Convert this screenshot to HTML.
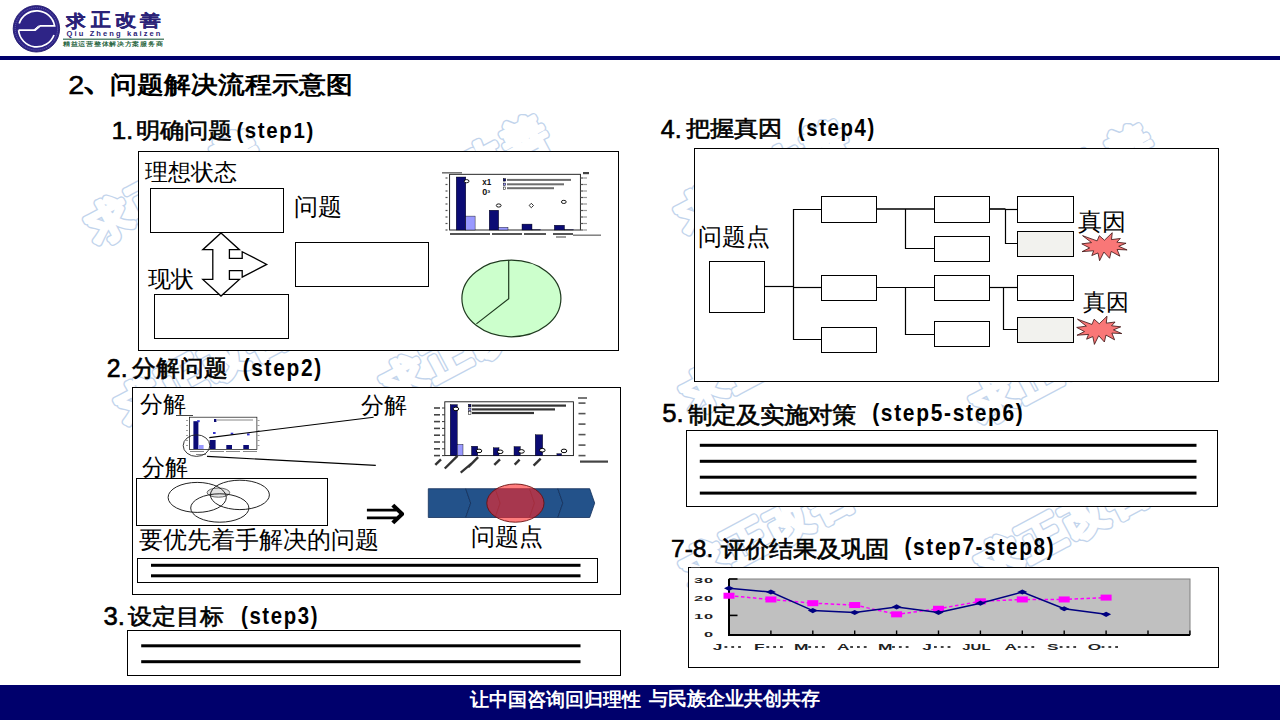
<!DOCTYPE html>
<html><head><meta charset="utf-8"><style>
html,body{margin:0;padding:0;background:#fff;}
#p{position:relative;width:1280px;height:720px;overflow:hidden;background:#fff;}
.t{position:absolute;white-space:nowrap;}
svg{position:absolute;left:0;top:0;}
</style></head><body><div id="p">
<svg width="1280" height="720" viewBox="0 0 1280 720"><rect x="0" y="56" width="1280" height="4" fill="#00006c"/>
<rect x="0" y="685" width="1280" height="35" fill="#00006c"/>
<g>
<circle cx="36.4" cy="28.8" r="23.2" fill="#2e2486" stroke="#231a6e" stroke-width="0.9"/>
<circle cx="36.4" cy="28.8" r="21.2" fill="none" stroke="#8f89c9" stroke-width="0.6" stroke-dasharray="1 1"/>
<path d="M 19.2 23.5 A 18.3 18.3 0 0 1 54.6 25.8 L 40.2 25.8 L 35.2 30.2 L 18.6 30.2" fill="none" stroke="#fff" stroke-width="1.7"/>
<path d="M 18.6 30.2 A 18.3 18.3 0 0 0 54.0 35.0" fill="none" stroke="#fff" stroke-width="1.7"/>
<path d="M 33.5 30.2 L 38.6 25.8" fill="none" stroke="#fff" stroke-width="1"/>
</g>
<rect x="63" y="38.6" width="101" height="1.2" fill="#336b50"/>
<text x="110" y="235" text-anchor="middle" font-family="Liberation Sans" font-weight="bold" font-size="44" fill="none" stroke="#c2d4ec" stroke-width="6.4" stroke-linejoin="round" stroke-linecap="round" transform="rotate(-28 110 221)">求</text>
<text x="152" y="213" text-anchor="middle" font-family="Liberation Sans" font-weight="bold" font-size="44" fill="none" stroke="#c2d4ec" stroke-width="6.4" stroke-linejoin="round" stroke-linecap="round" transform="rotate(-28 152 199)">正</text>
<text x="194" y="191" text-anchor="middle" font-family="Liberation Sans" font-weight="bold" font-size="44" fill="none" stroke="#c2d4ec" stroke-width="6.4" stroke-linejoin="round" stroke-linecap="round" transform="rotate(-28 194 177)">改</text>
<text x="236" y="169" text-anchor="middle" font-family="Liberation Sans" font-weight="bold" font-size="44" fill="none" stroke="#c2d4ec" stroke-width="6.4" stroke-linejoin="round" stroke-linecap="round" transform="rotate(-28 236 155)">善</text>
<text x="110" y="235" text-anchor="middle" font-family="Liberation Sans" font-weight="bold" font-size="44" fill="#fff" stroke="#fff" stroke-width="3.6" stroke-linejoin="round" stroke-linecap="round" transform="rotate(-28 110 221)">求</text>
<text x="152" y="213" text-anchor="middle" font-family="Liberation Sans" font-weight="bold" font-size="44" fill="#fff" stroke="#fff" stroke-width="3.6" stroke-linejoin="round" stroke-linecap="round" transform="rotate(-28 152 199)">正</text>
<text x="194" y="191" text-anchor="middle" font-family="Liberation Sans" font-weight="bold" font-size="44" fill="#fff" stroke="#fff" stroke-width="3.6" stroke-linejoin="round" stroke-linecap="round" transform="rotate(-28 194 177)">改</text>
<text x="236" y="169" text-anchor="middle" font-family="Liberation Sans" font-weight="bold" font-size="44" fill="#fff" stroke="#fff" stroke-width="3.6" stroke-linejoin="round" stroke-linecap="round" transform="rotate(-28 236 155)">善</text>
<text x="400" y="220" text-anchor="middle" font-family="Liberation Sans" font-weight="bold" font-size="44" fill="none" stroke="#c2d4ec" stroke-width="6.4" stroke-linejoin="round" stroke-linecap="round" transform="rotate(-28 400 206)">求</text>
<text x="442" y="198" text-anchor="middle" font-family="Liberation Sans" font-weight="bold" font-size="44" fill="none" stroke="#c2d4ec" stroke-width="6.4" stroke-linejoin="round" stroke-linecap="round" transform="rotate(-28 442 184)">正</text>
<text x="484" y="176" text-anchor="middle" font-family="Liberation Sans" font-weight="bold" font-size="44" fill="none" stroke="#c2d4ec" stroke-width="6.4" stroke-linejoin="round" stroke-linecap="round" transform="rotate(-28 484 162)">改</text>
<text x="526" y="154" text-anchor="middle" font-family="Liberation Sans" font-weight="bold" font-size="44" fill="none" stroke="#c2d4ec" stroke-width="6.4" stroke-linejoin="round" stroke-linecap="round" transform="rotate(-28 526 140)">善</text>
<text x="400" y="220" text-anchor="middle" font-family="Liberation Sans" font-weight="bold" font-size="44" fill="#fff" stroke="#fff" stroke-width="3.6" stroke-linejoin="round" stroke-linecap="round" transform="rotate(-28 400 206)">求</text>
<text x="442" y="198" text-anchor="middle" font-family="Liberation Sans" font-weight="bold" font-size="44" fill="#fff" stroke="#fff" stroke-width="3.6" stroke-linejoin="round" stroke-linecap="round" transform="rotate(-28 442 184)">正</text>
<text x="484" y="176" text-anchor="middle" font-family="Liberation Sans" font-weight="bold" font-size="44" fill="#fff" stroke="#fff" stroke-width="3.6" stroke-linejoin="round" stroke-linecap="round" transform="rotate(-28 484 162)">改</text>
<text x="526" y="154" text-anchor="middle" font-family="Liberation Sans" font-weight="bold" font-size="44" fill="#fff" stroke="#fff" stroke-width="3.6" stroke-linejoin="round" stroke-linecap="round" transform="rotate(-28 526 140)">善</text>
<text x="700" y="225" text-anchor="middle" font-family="Liberation Sans" font-weight="bold" font-size="44" fill="none" stroke="#c2d4ec" stroke-width="6.4" stroke-linejoin="round" stroke-linecap="round" transform="rotate(-28 700 211)">求</text>
<text x="742" y="203" text-anchor="middle" font-family="Liberation Sans" font-weight="bold" font-size="44" fill="none" stroke="#c2d4ec" stroke-width="6.4" stroke-linejoin="round" stroke-linecap="round" transform="rotate(-28 742 189)">正</text>
<text x="784" y="181" text-anchor="middle" font-family="Liberation Sans" font-weight="bold" font-size="44" fill="none" stroke="#c2d4ec" stroke-width="6.4" stroke-linejoin="round" stroke-linecap="round" transform="rotate(-28 784 167)">改</text>
<text x="826" y="159" text-anchor="middle" font-family="Liberation Sans" font-weight="bold" font-size="44" fill="none" stroke="#c2d4ec" stroke-width="6.4" stroke-linejoin="round" stroke-linecap="round" transform="rotate(-28 826 145)">善</text>
<text x="700" y="225" text-anchor="middle" font-family="Liberation Sans" font-weight="bold" font-size="44" fill="#fff" stroke="#fff" stroke-width="3.6" stroke-linejoin="round" stroke-linecap="round" transform="rotate(-28 700 211)">求</text>
<text x="742" y="203" text-anchor="middle" font-family="Liberation Sans" font-weight="bold" font-size="44" fill="#fff" stroke="#fff" stroke-width="3.6" stroke-linejoin="round" stroke-linecap="round" transform="rotate(-28 742 189)">正</text>
<text x="784" y="181" text-anchor="middle" font-family="Liberation Sans" font-weight="bold" font-size="44" fill="#fff" stroke="#fff" stroke-width="3.6" stroke-linejoin="round" stroke-linecap="round" transform="rotate(-28 784 167)">改</text>
<text x="826" y="159" text-anchor="middle" font-family="Liberation Sans" font-weight="bold" font-size="44" fill="#fff" stroke="#fff" stroke-width="3.6" stroke-linejoin="round" stroke-linecap="round" transform="rotate(-28 826 145)">善</text>
<text x="1005" y="229" text-anchor="middle" font-family="Liberation Sans" font-weight="bold" font-size="44" fill="none" stroke="#c2d4ec" stroke-width="6.4" stroke-linejoin="round" stroke-linecap="round" transform="rotate(-28 1005 215)">求</text>
<text x="1047" y="207" text-anchor="middle" font-family="Liberation Sans" font-weight="bold" font-size="44" fill="none" stroke="#c2d4ec" stroke-width="6.4" stroke-linejoin="round" stroke-linecap="round" transform="rotate(-28 1047 193)">正</text>
<text x="1089" y="185" text-anchor="middle" font-family="Liberation Sans" font-weight="bold" font-size="44" fill="none" stroke="#c2d4ec" stroke-width="6.4" stroke-linejoin="round" stroke-linecap="round" transform="rotate(-28 1089 171)">改</text>
<text x="1131" y="163" text-anchor="middle" font-family="Liberation Sans" font-weight="bold" font-size="44" fill="none" stroke="#c2d4ec" stroke-width="6.4" stroke-linejoin="round" stroke-linecap="round" transform="rotate(-28 1131 149)">善</text>
<text x="1005" y="229" text-anchor="middle" font-family="Liberation Sans" font-weight="bold" font-size="44" fill="#fff" stroke="#fff" stroke-width="3.6" stroke-linejoin="round" stroke-linecap="round" transform="rotate(-28 1005 215)">求</text>
<text x="1047" y="207" text-anchor="middle" font-family="Liberation Sans" font-weight="bold" font-size="44" fill="#fff" stroke="#fff" stroke-width="3.6" stroke-linejoin="round" stroke-linecap="round" transform="rotate(-28 1047 193)">正</text>
<text x="1089" y="185" text-anchor="middle" font-family="Liberation Sans" font-weight="bold" font-size="44" fill="#fff" stroke="#fff" stroke-width="3.6" stroke-linejoin="round" stroke-linecap="round" transform="rotate(-28 1089 171)">改</text>
<text x="1131" y="163" text-anchor="middle" font-family="Liberation Sans" font-weight="bold" font-size="44" fill="#fff" stroke="#fff" stroke-width="3.6" stroke-linejoin="round" stroke-linecap="round" transform="rotate(-28 1131 149)">善</text>
<text x="140" y="416" text-anchor="middle" font-family="Liberation Sans" font-weight="bold" font-size="44" fill="none" stroke="#c2d4ec" stroke-width="6.4" stroke-linejoin="round" stroke-linecap="round" transform="rotate(-28 140 402)">求</text>
<text x="182" y="394" text-anchor="middle" font-family="Liberation Sans" font-weight="bold" font-size="44" fill="none" stroke="#c2d4ec" stroke-width="6.4" stroke-linejoin="round" stroke-linecap="round" transform="rotate(-28 182 380)">正</text>
<text x="224" y="372" text-anchor="middle" font-family="Liberation Sans" font-weight="bold" font-size="44" fill="none" stroke="#c2d4ec" stroke-width="6.4" stroke-linejoin="round" stroke-linecap="round" transform="rotate(-28 224 358)">改</text>
<text x="266" y="350" text-anchor="middle" font-family="Liberation Sans" font-weight="bold" font-size="44" fill="none" stroke="#c2d4ec" stroke-width="6.4" stroke-linejoin="round" stroke-linecap="round" transform="rotate(-28 266 336)">善</text>
<text x="140" y="416" text-anchor="middle" font-family="Liberation Sans" font-weight="bold" font-size="44" fill="#fff" stroke="#fff" stroke-width="3.6" stroke-linejoin="round" stroke-linecap="round" transform="rotate(-28 140 402)">求</text>
<text x="182" y="394" text-anchor="middle" font-family="Liberation Sans" font-weight="bold" font-size="44" fill="#fff" stroke="#fff" stroke-width="3.6" stroke-linejoin="round" stroke-linecap="round" transform="rotate(-28 182 380)">正</text>
<text x="224" y="372" text-anchor="middle" font-family="Liberation Sans" font-weight="bold" font-size="44" fill="#fff" stroke="#fff" stroke-width="3.6" stroke-linejoin="round" stroke-linecap="round" transform="rotate(-28 224 358)">改</text>
<text x="266" y="350" text-anchor="middle" font-family="Liberation Sans" font-weight="bold" font-size="44" fill="#fff" stroke="#fff" stroke-width="3.6" stroke-linejoin="round" stroke-linecap="round" transform="rotate(-28 266 336)">善</text>
<text x="405" y="394" text-anchor="middle" font-family="Liberation Sans" font-weight="bold" font-size="44" fill="none" stroke="#c2d4ec" stroke-width="6.4" stroke-linejoin="round" stroke-linecap="round" transform="rotate(-28 405 380)">求</text>
<text x="447" y="372" text-anchor="middle" font-family="Liberation Sans" font-weight="bold" font-size="44" fill="none" stroke="#c2d4ec" stroke-width="6.4" stroke-linejoin="round" stroke-linecap="round" transform="rotate(-28 447 358)">正</text>
<text x="489" y="350" text-anchor="middle" font-family="Liberation Sans" font-weight="bold" font-size="44" fill="none" stroke="#c2d4ec" stroke-width="6.4" stroke-linejoin="round" stroke-linecap="round" transform="rotate(-28 489 336)">改</text>
<text x="531" y="328" text-anchor="middle" font-family="Liberation Sans" font-weight="bold" font-size="44" fill="none" stroke="#c2d4ec" stroke-width="6.4" stroke-linejoin="round" stroke-linecap="round" transform="rotate(-28 531 314)">善</text>
<text x="405" y="394" text-anchor="middle" font-family="Liberation Sans" font-weight="bold" font-size="44" fill="#fff" stroke="#fff" stroke-width="3.6" stroke-linejoin="round" stroke-linecap="round" transform="rotate(-28 405 380)">求</text>
<text x="447" y="372" text-anchor="middle" font-family="Liberation Sans" font-weight="bold" font-size="44" fill="#fff" stroke="#fff" stroke-width="3.6" stroke-linejoin="round" stroke-linecap="round" transform="rotate(-28 447 358)">正</text>
<text x="489" y="350" text-anchor="middle" font-family="Liberation Sans" font-weight="bold" font-size="44" fill="#fff" stroke="#fff" stroke-width="3.6" stroke-linejoin="round" stroke-linecap="round" transform="rotate(-28 489 336)">改</text>
<text x="531" y="328" text-anchor="middle" font-family="Liberation Sans" font-weight="bold" font-size="44" fill="#fff" stroke="#fff" stroke-width="3.6" stroke-linejoin="round" stroke-linecap="round" transform="rotate(-28 531 314)">善</text>
<text x="705" y="404" text-anchor="middle" font-family="Liberation Sans" font-weight="bold" font-size="44" fill="none" stroke="#c2d4ec" stroke-width="6.4" stroke-linejoin="round" stroke-linecap="round" transform="rotate(-28 705 390)">求</text>
<text x="747" y="382" text-anchor="middle" font-family="Liberation Sans" font-weight="bold" font-size="44" fill="none" stroke="#c2d4ec" stroke-width="6.4" stroke-linejoin="round" stroke-linecap="round" transform="rotate(-28 747 368)">正</text>
<text x="789" y="360" text-anchor="middle" font-family="Liberation Sans" font-weight="bold" font-size="44" fill="none" stroke="#c2d4ec" stroke-width="6.4" stroke-linejoin="round" stroke-linecap="round" transform="rotate(-28 789 346)">改</text>
<text x="831" y="338" text-anchor="middle" font-family="Liberation Sans" font-weight="bold" font-size="44" fill="none" stroke="#c2d4ec" stroke-width="6.4" stroke-linejoin="round" stroke-linecap="round" transform="rotate(-28 831 324)">善</text>
<text x="705" y="404" text-anchor="middle" font-family="Liberation Sans" font-weight="bold" font-size="44" fill="#fff" stroke="#fff" stroke-width="3.6" stroke-linejoin="round" stroke-linecap="round" transform="rotate(-28 705 390)">求</text>
<text x="747" y="382" text-anchor="middle" font-family="Liberation Sans" font-weight="bold" font-size="44" fill="#fff" stroke="#fff" stroke-width="3.6" stroke-linejoin="round" stroke-linecap="round" transform="rotate(-28 747 368)">正</text>
<text x="789" y="360" text-anchor="middle" font-family="Liberation Sans" font-weight="bold" font-size="44" fill="#fff" stroke="#fff" stroke-width="3.6" stroke-linejoin="round" stroke-linecap="round" transform="rotate(-28 789 346)">改</text>
<text x="831" y="338" text-anchor="middle" font-family="Liberation Sans" font-weight="bold" font-size="44" fill="#fff" stroke="#fff" stroke-width="3.6" stroke-linejoin="round" stroke-linecap="round" transform="rotate(-28 831 324)">善</text>
<text x="995" y="414" text-anchor="middle" font-family="Liberation Sans" font-weight="bold" font-size="44" fill="none" stroke="#c2d4ec" stroke-width="6.4" stroke-linejoin="round" stroke-linecap="round" transform="rotate(-28 995 400)">求</text>
<text x="1037" y="392" text-anchor="middle" font-family="Liberation Sans" font-weight="bold" font-size="44" fill="none" stroke="#c2d4ec" stroke-width="6.4" stroke-linejoin="round" stroke-linecap="round" transform="rotate(-28 1037 378)">正</text>
<text x="1079" y="370" text-anchor="middle" font-family="Liberation Sans" font-weight="bold" font-size="44" fill="none" stroke="#c2d4ec" stroke-width="6.4" stroke-linejoin="round" stroke-linecap="round" transform="rotate(-28 1079 356)">改</text>
<text x="1121" y="348" text-anchor="middle" font-family="Liberation Sans" font-weight="bold" font-size="44" fill="none" stroke="#c2d4ec" stroke-width="6.4" stroke-linejoin="round" stroke-linecap="round" transform="rotate(-28 1121 334)">善</text>
<text x="995" y="414" text-anchor="middle" font-family="Liberation Sans" font-weight="bold" font-size="44" fill="#fff" stroke="#fff" stroke-width="3.6" stroke-linejoin="round" stroke-linecap="round" transform="rotate(-28 995 400)">求</text>
<text x="1037" y="392" text-anchor="middle" font-family="Liberation Sans" font-weight="bold" font-size="44" fill="#fff" stroke="#fff" stroke-width="3.6" stroke-linejoin="round" stroke-linecap="round" transform="rotate(-28 1037 378)">正</text>
<text x="1079" y="370" text-anchor="middle" font-family="Liberation Sans" font-weight="bold" font-size="44" fill="#fff" stroke="#fff" stroke-width="3.6" stroke-linejoin="round" stroke-linecap="round" transform="rotate(-28 1079 356)">改</text>
<text x="1121" y="348" text-anchor="middle" font-family="Liberation Sans" font-weight="bold" font-size="44" fill="#fff" stroke="#fff" stroke-width="3.6" stroke-linejoin="round" stroke-linecap="round" transform="rotate(-28 1121 334)">善</text>
<text x="410" y="576" text-anchor="middle" font-family="Liberation Sans" font-weight="bold" font-size="44" fill="none" stroke="#c2d4ec" stroke-width="6.4" stroke-linejoin="round" stroke-linecap="round" transform="rotate(-28 410 562)">求</text>
<text x="452" y="554" text-anchor="middle" font-family="Liberation Sans" font-weight="bold" font-size="44" fill="none" stroke="#c2d4ec" stroke-width="6.4" stroke-linejoin="round" stroke-linecap="round" transform="rotate(-28 452 540)">正</text>
<text x="494" y="532" text-anchor="middle" font-family="Liberation Sans" font-weight="bold" font-size="44" fill="none" stroke="#c2d4ec" stroke-width="6.4" stroke-linejoin="round" stroke-linecap="round" transform="rotate(-28 494 518)">改</text>
<text x="536" y="510" text-anchor="middle" font-family="Liberation Sans" font-weight="bold" font-size="44" fill="none" stroke="#c2d4ec" stroke-width="6.4" stroke-linejoin="round" stroke-linecap="round" transform="rotate(-28 536 496)">善</text>
<text x="410" y="576" text-anchor="middle" font-family="Liberation Sans" font-weight="bold" font-size="44" fill="#fff" stroke="#fff" stroke-width="3.6" stroke-linejoin="round" stroke-linecap="round" transform="rotate(-28 410 562)">求</text>
<text x="452" y="554" text-anchor="middle" font-family="Liberation Sans" font-weight="bold" font-size="44" fill="#fff" stroke="#fff" stroke-width="3.6" stroke-linejoin="round" stroke-linecap="round" transform="rotate(-28 452 540)">正</text>
<text x="494" y="532" text-anchor="middle" font-family="Liberation Sans" font-weight="bold" font-size="44" fill="#fff" stroke="#fff" stroke-width="3.6" stroke-linejoin="round" stroke-linecap="round" transform="rotate(-28 494 518)">改</text>
<text x="536" y="510" text-anchor="middle" font-family="Liberation Sans" font-weight="bold" font-size="44" fill="#fff" stroke="#fff" stroke-width="3.6" stroke-linejoin="round" stroke-linecap="round" transform="rotate(-28 536 496)">善</text>
<text x="705" y="579" text-anchor="middle" font-family="Liberation Sans" font-weight="bold" font-size="44" fill="none" stroke="#c2d4ec" stroke-width="6.4" stroke-linejoin="round" stroke-linecap="round" transform="rotate(-28 705 565)">求</text>
<text x="747" y="557" text-anchor="middle" font-family="Liberation Sans" font-weight="bold" font-size="44" fill="none" stroke="#c2d4ec" stroke-width="6.4" stroke-linejoin="round" stroke-linecap="round" transform="rotate(-28 747 543)">正</text>
<text x="789" y="535" text-anchor="middle" font-family="Liberation Sans" font-weight="bold" font-size="44" fill="none" stroke="#c2d4ec" stroke-width="6.4" stroke-linejoin="round" stroke-linecap="round" transform="rotate(-28 789 521)">改</text>
<text x="831" y="513" text-anchor="middle" font-family="Liberation Sans" font-weight="bold" font-size="44" fill="none" stroke="#c2d4ec" stroke-width="6.4" stroke-linejoin="round" stroke-linecap="round" transform="rotate(-28 831 499)">善</text>
<text x="705" y="579" text-anchor="middle" font-family="Liberation Sans" font-weight="bold" font-size="44" fill="#fff" stroke="#fff" stroke-width="3.6" stroke-linejoin="round" stroke-linecap="round" transform="rotate(-28 705 565)">求</text>
<text x="747" y="557" text-anchor="middle" font-family="Liberation Sans" font-weight="bold" font-size="44" fill="#fff" stroke="#fff" stroke-width="3.6" stroke-linejoin="round" stroke-linecap="round" transform="rotate(-28 747 543)">正</text>
<text x="789" y="535" text-anchor="middle" font-family="Liberation Sans" font-weight="bold" font-size="44" fill="#fff" stroke="#fff" stroke-width="3.6" stroke-linejoin="round" stroke-linecap="round" transform="rotate(-28 789 521)">改</text>
<text x="831" y="513" text-anchor="middle" font-family="Liberation Sans" font-weight="bold" font-size="44" fill="#fff" stroke="#fff" stroke-width="3.6" stroke-linejoin="round" stroke-linecap="round" transform="rotate(-28 831 499)">善</text>
<text x="1000" y="574" text-anchor="middle" font-family="Liberation Sans" font-weight="bold" font-size="44" fill="none" stroke="#c2d4ec" stroke-width="6.4" stroke-linejoin="round" stroke-linecap="round" transform="rotate(-28 1000 560)">求</text>
<text x="1042" y="552" text-anchor="middle" font-family="Liberation Sans" font-weight="bold" font-size="44" fill="none" stroke="#c2d4ec" stroke-width="6.4" stroke-linejoin="round" stroke-linecap="round" transform="rotate(-28 1042 538)">正</text>
<text x="1084" y="530" text-anchor="middle" font-family="Liberation Sans" font-weight="bold" font-size="44" fill="none" stroke="#c2d4ec" stroke-width="6.4" stroke-linejoin="round" stroke-linecap="round" transform="rotate(-28 1084 516)">改</text>
<text x="1126" y="508" text-anchor="middle" font-family="Liberation Sans" font-weight="bold" font-size="44" fill="none" stroke="#c2d4ec" stroke-width="6.4" stroke-linejoin="round" stroke-linecap="round" transform="rotate(-28 1126 494)">善</text>
<text x="1000" y="574" text-anchor="middle" font-family="Liberation Sans" font-weight="bold" font-size="44" fill="#fff" stroke="#fff" stroke-width="3.6" stroke-linejoin="round" stroke-linecap="round" transform="rotate(-28 1000 560)">求</text>
<text x="1042" y="552" text-anchor="middle" font-family="Liberation Sans" font-weight="bold" font-size="44" fill="#fff" stroke="#fff" stroke-width="3.6" stroke-linejoin="round" stroke-linecap="round" transform="rotate(-28 1042 538)">正</text>
<text x="1084" y="530" text-anchor="middle" font-family="Liberation Sans" font-weight="bold" font-size="44" fill="#fff" stroke="#fff" stroke-width="3.6" stroke-linejoin="round" stroke-linecap="round" transform="rotate(-28 1084 516)">改</text>
<text x="1126" y="508" text-anchor="middle" font-family="Liberation Sans" font-weight="bold" font-size="44" fill="#fff" stroke="#fff" stroke-width="3.6" stroke-linejoin="round" stroke-linecap="round" transform="rotate(-28 1126 494)">善</text>
<rect x="138.5" y="151.5" width="480.0" height="199.0" fill="#fff" stroke="#000" stroke-width="1"/>
<rect x="150.5" y="188.5" width="133.0" height="44.0" fill="#fff" stroke="#000" stroke-width="1"/>
<rect x="295.5" y="242.5" width="133.0" height="44.0" fill="#fff" stroke="#000" stroke-width="1"/>
<rect x="154.5" y="294.5" width="134.0" height="44.0" fill="#fff" stroke="#000" stroke-width="1"/>
<path d="M 221 233 L 239.4 249.7 L 229.4 249.7 L 229.4 258.3 L 242.2 258.3 L 242.2 251.7 L 266.7 264.4 L 242.2 277.2 L 242.2 270.6 L 229.4 270.6 L 229.4 279.4 L 239.4 279.4 L 221 296 L 202.8 279.4 L 212.8 279.4 L 212.8 249.7 L 202.8 249.7 Z" fill="#fff" stroke="#000" stroke-width="1.3"/>
<rect x="449.6" y="174.3" width="130.8" height="55.7" fill="#fff" stroke="#111" stroke-width="0.9"/>
<rect x="456.2" y="177" width="9.600000000000023" height="53" fill="#0b0b74" stroke="#000" stroke-width="0.4"/>
<rect x="465.8" y="216.1" width="9.300000000000011" height="13.900000000000006" fill="#9999ff" stroke="#000" stroke-width="0.4"/>
<rect x="489.2" y="210.2" width="9.5" height="19.80000000000001" fill="#0b0b74" stroke="#000" stroke-width="0.4"/>
<rect x="498.7" y="227.2" width="9.300000000000011" height="2.8000000000000114" fill="#9999ff" stroke="#000" stroke-width="0.4"/>
<rect x="522" y="224.1" width="10" height="5.900000000000006" fill="#0b0b74" stroke="#000" stroke-width="0.4"/>
<rect x="532" y="229.4" width="8.799999999999955" height="0.5999999999999943" fill="#9999ff" stroke="#000" stroke-width="0.4"/>
<rect x="554.3" y="225.2" width="10.200000000000045" height="4.800000000000011" fill="#0b0b74" stroke="#000" stroke-width="0.4"/>
<rect x="564.5" y="229.4" width="9.299999999999955" height="0.5999999999999943" fill="#9999ff" stroke="#000" stroke-width="0.4"/>
<ellipse cx="466.6" cy="181.2" rx="2.4" ry="1.6" fill="#fff" stroke="#000" stroke-width="0.9"/>
<ellipse cx="498.7" cy="205.5" rx="2.4" ry="1.6" fill="#fff" stroke="#000" stroke-width="0.9"/>
<ellipse cx="563.8" cy="201.9" rx="2.4" ry="1.6" fill="#fff" stroke="#000" stroke-width="0.9"/>
<path d="M 531.3 203.3 L 533.5 205.5 L 531.3 207.7 L 529.1 205.5 Z" fill="#fff" stroke="#000" stroke-width="0.8"/>
<text x="482.3" y="184.6" font-family="Liberation Sans" font-weight="bold" font-size="8.2" fill="#111" textLength="9" lengthAdjust="spacingAndGlyphs">x1</text>
<text x="482.3" y="195.4" font-family="Liberation Sans" font-weight="bold" font-size="8.2" fill="#111" textLength="8" lengthAdjust="spacingAndGlyphs">0³</text>
<rect x="503.3" y="178.70000000000002" width="2.4" height="2.4" fill="#0b0b74" stroke="#000" stroke-width="0.5"/>
<rect x="507" y="178.9" width="64" height="2" fill="#555" fill-opacity="0.85"/>
<rect x="503.3" y="183.10000000000002" width="2.4" height="2.4" fill="#9999ff" stroke="#000" stroke-width="0.5"/>
<rect x="507" y="183.3" width="57" height="2" fill="#555" fill-opacity="0.85"/>
<rect x="503.3" y="187.0" width="2.4" height="2.4" fill="#fff" stroke="#000" stroke-width="0.5"/>
<rect x="507" y="187.2" width="47" height="2" fill="#555" fill-opacity="0.85"/>
<rect x="445.5" y="229.4" width="2" height="1.2" fill="#555"/>
<rect x="580.5" y="229.4" width="3" height="1.2" fill="#555"/>
<rect x="584" y="229.4" width="3" height="1.2" fill="#999"/>
<rect x="445.5" y="222.9" width="2" height="1.2" fill="#555"/>
<rect x="580.5" y="222.9" width="3" height="1.2" fill="#555"/>
<rect x="584" y="222.9" width="3" height="1.2" fill="#999"/>
<rect x="445.5" y="216.4" width="2" height="1.2" fill="#555"/>
<rect x="580.5" y="216.4" width="3" height="1.2" fill="#555"/>
<rect x="584" y="216.4" width="3" height="1.2" fill="#999"/>
<rect x="445.5" y="209.9" width="2" height="1.2" fill="#555"/>
<rect x="580.5" y="209.9" width="3" height="1.2" fill="#555"/>
<rect x="584" y="209.9" width="3" height="1.2" fill="#999"/>
<rect x="445.5" y="203.4" width="2" height="1.2" fill="#555"/>
<rect x="580.5" y="203.4" width="3" height="1.2" fill="#555"/>
<rect x="584" y="203.4" width="3" height="1.2" fill="#999"/>
<rect x="445.5" y="196.9" width="2" height="1.2" fill="#555"/>
<rect x="580.5" y="196.9" width="3" height="1.2" fill="#555"/>
<rect x="584" y="196.9" width="3" height="1.2" fill="#999"/>
<rect x="445.5" y="190.4" width="2" height="1.2" fill="#555"/>
<rect x="580.5" y="190.4" width="3" height="1.2" fill="#555"/>
<rect x="584" y="190.4" width="3" height="1.2" fill="#999"/>
<rect x="445.5" y="183.9" width="2" height="1.2" fill="#555"/>
<rect x="580.5" y="183.9" width="3" height="1.2" fill="#555"/>
<rect x="584" y="183.9" width="3" height="1.2" fill="#999"/>
<rect x="445.5" y="177.4" width="2" height="1.2" fill="#555"/>
<rect x="580.5" y="177.4" width="3" height="1.2" fill="#555"/>
<rect x="584" y="177.4" width="3" height="1.2" fill="#999"/>
<rect x="442" y="172" width="20" height="1.6" fill="#777"/>
<rect x="583" y="172" width="6" height="2.2" fill="#444"/>
<rect x="450" y="233" width="40" height="2" fill="#555"/>
<rect x="492" y="233" width="30" height="2" fill="#555"/>
<rect x="524" y="233" width="22" height="2" fill="#555"/>
<rect x="553" y="233" width="20" height="2" fill="#555"/>
<rect x="556" y="236.3" width="10" height="1.4" fill="#777"/>
<rect x="573" y="234.5" width="28" height="1.4" fill="#777"/>
<ellipse cx="511.4" cy="298.5" rx="49.5" ry="38.3" fill="#ccffcc" stroke="#1f3a1f" stroke-width="1.2"/>
<path d="M 508.7 260.3 L 508.7 298.6 L 476.4 323.9" fill="none" stroke="#1f3a1f" stroke-width="1.2" />
<rect x="132.5" y="387.5" width="488.0" height="207.0" fill="#fff" stroke="#000" stroke-width="1"/>
<rect x="189.4" y="417.2" width="67.5" height="32.4" fill="#fff" stroke="#111" stroke-width="0.7"/>
<rect x="193.4" y="421.2" width="5.0" height="27.80000000000001" fill="#0b0b74"/>
<rect x="198.4" y="445" width="5.199999999999989" height="4" fill="#9999ff"/>
<rect x="209.7" y="440" width="5.900000000000006" height="9" fill="#0b0b74"/>
<rect x="226.3" y="445" width="5.699999999999989" height="4" fill="#0b0b74"/>
<rect x="243.3" y="445" width="5.599999999999994" height="4" fill="#0b0b74"/>
<rect x="197.1" y="420.2" width="2.6" height="2" fill="#3333cc"/>
<rect x="213.0" y="432" width="2.6" height="2" fill="#3333cc"/>
<rect x="230.7" y="432.7" width="2.6" height="2" fill="#3333cc"/>
<rect x="247.0" y="433.4" width="2.6" height="2" fill="#3333cc"/>
<rect x="214" y="419" width="2.4" height="3" fill="#0b0b74"/>
<rect x="217" y="419.5" width="36" height="1" fill="#888"/>
<rect x="186" y="420" width="2" height="0.8" fill="#888"/>
<rect x="257.5" y="420" width="2" height="0.8" fill="#888"/>
<rect x="186" y="425" width="2" height="0.8" fill="#888"/>
<rect x="257.5" y="425" width="2" height="0.8" fill="#888"/>
<rect x="186" y="430" width="2" height="0.8" fill="#888"/>
<rect x="257.5" y="430" width="2" height="0.8" fill="#888"/>
<rect x="186" y="435" width="2" height="0.8" fill="#888"/>
<rect x="257.5" y="435" width="2" height="0.8" fill="#888"/>
<rect x="186" y="440" width="2" height="0.8" fill="#888"/>
<rect x="257.5" y="440" width="2" height="0.8" fill="#888"/>
<rect x="186" y="445" width="2" height="0.8" fill="#888"/>
<rect x="257.5" y="445" width="2" height="0.8" fill="#888"/>
<rect x="176" y="415" width="17" height="1" fill="#444"/>
<rect x="190" y="451" width="14" height="1" fill="#888"/>
<rect x="210" y="451" width="14" height="1" fill="#888"/>
<rect x="226" y="451" width="14" height="1" fill="#888"/>
<rect x="243" y="451" width="14" height="1" fill="#888"/>
<rect x="196" y="454" width="10" height="1" fill="#888"/>
<ellipse cx="196.5" cy="445.6" rx="13.3" ry="10.8" fill="none" stroke="#222" stroke-width="0.9"/>
<path d="M 209.3 437.6 L 373.6 417.2" fill="none" stroke="#000" stroke-width="1.1" />
<path d="M 207 456.4 L 375.8 465.4" fill="none" stroke="#000" stroke-width="1.1" />
<rect x="136.5" y="478.5" width="191.0" height="47.0" fill="#fff" stroke="#000" stroke-width="1"/>
<ellipse cx="218.4" cy="492.6" rx="11.3" ry="4.6" fill="#ddd" fill-opacity="0.8" stroke="#555" stroke-width="0.9"/>
<ellipse cx="197.2" cy="497.4" rx="29.1" ry="15" fill="none" stroke="#222" stroke-width="1"/>
<ellipse cx="239.9" cy="494.9" rx="29.5" ry="14.7" fill="none" stroke="#222" stroke-width="1"/>
<ellipse cx="219.8" cy="508" rx="29.1" ry="14.2" fill="none" stroke="#222" stroke-width="1"/>
<path d="M 428.3 488.7 L 465.7 488.7 L 470.7 503.1 L 465.7 517.5 L 428.3 517.5 Z" fill="#23528a" stroke="#14305a" stroke-width="0.8"/>
<path d="M 465.7 488.7 L 495.2 488.7 L 500.2 503.1 L 495.2 517.5 L 465.7 517.5 L 470.7 503.1 Z" fill="#23528a" stroke="#14305a" stroke-width="0.8"/>
<path d="M 495.2 488.7 L 529.5 488.7 L 534.5 503.1 L 529.5 517.5 L 495.2 517.5 L 500.2 503.1 Z" fill="#23528a" stroke="#14305a" stroke-width="0.8"/>
<path d="M 529.5 488.7 L 557.8 488.7 L 562.8 503.1 L 557.8 517.5 L 529.5 517.5 L 534.5 503.1 Z" fill="#23528a" stroke="#14305a" stroke-width="0.8"/>
<path d="M 557.8 488.7 L 589.7 488.7 L 594.7 503.1 L 589.7 517.5 L 557.8 517.5 L 562.8 503.1 Z" fill="#23528a" stroke="#14305a" stroke-width="0.8"/>
<ellipse cx="515.4" cy="503.1" rx="28.6" ry="19.1" fill="#ff2626" fill-opacity="0.6" stroke="#6a1010" stroke-width="0.9"/>
<rect x="137.5" y="558.5" width="460.0" height="24.0" fill="#fff" stroke="#000" stroke-width="1"/>
<rect x="151" y="563.8" width="429.5" height="3" fill="#000"/>
<rect x="151" y="574.3" width="429.5" height="3" fill="#000"/>
<rect x="127.5" y="630.5" width="493.0" height="45.0" fill="#fff" stroke="#000" stroke-width="1"/>
<rect x="141.2" y="644.3" width="439.3" height="3" fill="#000"/>
<rect x="141.2" y="660.2" width="439.3" height="3" fill="#000"/>
<rect x="694.5" y="148.5" width="524.0" height="233.0" fill="#fff" stroke="#000" stroke-width="1"/>
<rect x="709.5" y="261.5" width="55.0" height="51.0" fill="#fff" stroke="#000" stroke-width="1"/>
<rect x="821.5" y="196.5" width="55.0" height="26.0" fill="#fff" stroke="#000" stroke-width="1"/>
<rect x="821.5" y="275.5" width="55.0" height="25.0" fill="#fff" stroke="#000" stroke-width="1"/>
<rect x="821.5" y="327.5" width="55.0" height="25.0" fill="#fff" stroke="#000" stroke-width="1"/>
<rect x="934.5" y="196.5" width="55.0" height="26.0" fill="#fff" stroke="#000" stroke-width="1"/>
<rect x="934.5" y="236.5" width="55.0" height="25.0" fill="#fff" stroke="#000" stroke-width="1"/>
<rect x="934.5" y="275.5" width="55.0" height="25.0" fill="#fff" stroke="#000" stroke-width="1"/>
<rect x="934.5" y="321.5" width="55.0" height="25.0" fill="#fff" stroke="#000" stroke-width="1"/>
<rect x="1017.5" y="196.5" width="56.0" height="26.0" fill="#fff" stroke="#000" stroke-width="1"/>
<rect x="1017.5" y="231.5" width="56.0" height="25.0" fill="#f2f2ee" stroke="#000" stroke-width="1"/>
<rect x="1017.5" y="275.5" width="56.0" height="25.0" fill="#fff" stroke="#000" stroke-width="1"/>
<rect x="1017.5" y="317.5" width="56.0" height="25.0" fill="#f2f2ee" stroke="#000" stroke-width="1"/>
<path d="M 764.5 286.5 L 793.5 286.5" fill="none" stroke="#000" stroke-width="1.2" />
<path d="M 821.5 209.5 L 793.5 209.5 L 793.5 339.5 L 821.5 339.5" fill="none" stroke="#000" stroke-width="1.2" />
<path d="M 793.5 287.5 L 821.5 287.5" fill="none" stroke="#000" stroke-width="1.2" />
<path d="M 876.5 209 L 905.5 209 L 934.5 209" fill="none" stroke="#000" stroke-width="1.6" />
<path d="M 905.5 209 L 905.5 248.5 L 934.5 248.5" fill="none" stroke="#000" stroke-width="1.2" />
<path d="M 876.5 287.5 L 934.5 287.5" fill="none" stroke="#000" stroke-width="1.2" />
<path d="M 905.5 287.5 L 905.5 334.5 L 934.5 334.5" fill="none" stroke="#000" stroke-width="1.2" />
<path d="M 989.5 209 L 1005.5 209" fill="none" stroke="#000" stroke-width="1.6" />
<path d="M 1005.5 209.5 L 1017.5 209.5" fill="none" stroke="#000" stroke-width="1.2" />
<path d="M 1005.5 209 L 1005.5 243.5 L 1017.5 243.5" fill="none" stroke="#000" stroke-width="1.2" />
<path d="M 989.5 287.5 L 1017.5 287.5" fill="none" stroke="#000" stroke-width="1.2" />
<path d="M 1003.5 287.5 L 1003.5 329.5 L 1017.5 329.5" fill="none" stroke="#000" stroke-width="1.2" />
<path d="M 1104.45 240.22 L 1112.26 232.70 L 1111.49 239.60 L 1120.35 238.48 L 1116.83 242.18 L 1126.05 243.25 L 1118.73 246.28 L 1127.10 249.93 L 1117.11 249.48 L 1119.85 256.16 L 1111.20 251.44 L 1109.58 258.28 L 1103.89 252.06 L 1099.59 260.70 L 1097.98 252.96 L 1091.79 255.54 L 1093.68 250.77 L 1082.08 251.61 L 1089.61 247.96 L 1081.80 243.87 L 1091.50 242.57 L 1082.58 235.67 L 1097.13 240.89 L 1099.32 235.67 Z" fill="#f97777" stroke="#3a1010" stroke-width="0.8"/>
<path d="M 1099.25 323.77 L 1107.02 316.20 L 1106.26 323.15 L 1115.08 322.02 L 1111.57 325.75 L 1120.75 326.82 L 1113.46 329.88 L 1121.80 333.55 L 1111.86 333.10 L 1114.59 339.82 L 1105.97 335.07 L 1104.36 341.97 L 1098.69 335.70 L 1094.42 344.40 L 1092.81 336.60 L 1086.64 339.20 L 1088.53 334.40 L 1076.98 335.24 L 1084.47 331.57 L 1076.70 327.45 L 1086.36 326.14 L 1077.47 319.20 L 1091.97 324.45 L 1094.14 319.20 Z" fill="#f97777" stroke="#3a1010" stroke-width="0.8"/>
<rect x="686.5" y="430.5" width="531.0" height="76.0" fill="#fff" stroke="#000" stroke-width="1"/>
<rect x="699.8" y="443.8" width="496.7" height="3" fill="#000"/>
<rect x="699.8" y="459.8" width="496.7" height="3" fill="#000"/>
<rect x="699.8" y="475.7" width="496.7" height="3" fill="#000"/>
<rect x="699.8" y="491.6" width="496.7" height="3" fill="#000"/>
<rect x="688.5" y="567.5" width="530.0" height="100.0" fill="#fff" stroke="#000" stroke-width="1"/>
<rect x="729" y="579" width="461" height="56" fill="#c0c0c0" stroke="#808080" stroke-width="1"/>
<path d="M 729 579 L 729 635 L 1190 635" fill="none" stroke="#000" stroke-width="2" />
<path d="M 729 579 L 737.5 579" fill="none" stroke="#000" stroke-width="1.6" />
<path d="M 729 615.4 L 737.5 615.4" fill="none" stroke="#000" stroke-width="1.6" />
<path d="M 770.9 635 L 770.9 630.5" fill="none" stroke="#000" stroke-width="1.4" />
<path d="M 812.8 635 L 812.8 630.5" fill="none" stroke="#000" stroke-width="1.4" />
<path d="M 854.7 635 L 854.7 630.5" fill="none" stroke="#000" stroke-width="1.4" />
<path d="M 896.6 635 L 896.6 630.5" fill="none" stroke="#000" stroke-width="1.4" />
<path d="M 938.5 635 L 938.5 630.5" fill="none" stroke="#000" stroke-width="1.4" />
<path d="M 980.4 635 L 980.4 630.5" fill="none" stroke="#000" stroke-width="1.4" />
<path d="M 1022.3 635 L 1022.3 630.5" fill="none" stroke="#000" stroke-width="1.4" />
<path d="M 1064.2 635 L 1064.2 630.5" fill="none" stroke="#000" stroke-width="1.4" />
<path d="M 1106.1 635 L 1106.1 630.5" fill="none" stroke="#000" stroke-width="1.4" />
<path d="M 1148.0 635 L 1148.0 630.5" fill="none" stroke="#000" stroke-width="1.4" />
<path d="M 1189.9 635 L 1189.9 630.5" fill="none" stroke="#000" stroke-width="1.4" />
<path d="M 729.0 595.74 L 770.9 599.4599999999999 L 812.8 603.18 L 854.7 605.04 L 896.6 614.3399999999999 L 938.5 608.76 L 980.4 601.3199999999999 L 1022.3 599.4599999999999 L 1064.2 599.4599999999999 L 1106.1 597.5999999999999" fill="none" stroke="#ff00ff" stroke-width="1.5" stroke-dasharray="3.5 2.5"/>
<rect x="723.5" y="592.74" width="11" height="6" fill="#ff00ff"/>
<rect x="765.4" y="596.4599999999999" width="11" height="6" fill="#ff00ff"/>
<rect x="807.3" y="600.18" width="11" height="6" fill="#ff00ff"/>
<rect x="849.2" y="602.04" width="11" height="6" fill="#ff00ff"/>
<rect x="891.1" y="611.3399999999999" width="11" height="6" fill="#ff00ff"/>
<rect x="933.0" y="605.76" width="11" height="6" fill="#ff00ff"/>
<rect x="974.9" y="598.3199999999999" width="11" height="6" fill="#ff00ff"/>
<rect x="1016.8" y="596.4599999999999" width="11" height="6" fill="#ff00ff"/>
<rect x="1058.7" y="596.4599999999999" width="11" height="6" fill="#ff00ff"/>
<rect x="1100.6" y="594.5999999999999" width="11" height="6" fill="#ff00ff"/>
<path d="M 729.0 588.3 L 770.9 592.02 L 812.8 610.62 L 854.7 612.4799999999999 L 896.6 606.9 L 938.5 612.4799999999999 L 980.4 603.18 L 1022.3 592.02 L 1064.2 608.76 L 1106.1 614.3399999999999" fill="none" stroke="#000080" stroke-width="1.5" />
<path d="M 724.0 588.3 L 729.0 585.6999999999999 L 734.0 588.3 L 729.0 590.9 Z" fill="#000080"/>
<path d="M 765.9 592.02 L 770.9 589.42 L 775.9 592.02 L 770.9 594.62 Z" fill="#000080"/>
<path d="M 807.8 610.62 L 812.8 608.02 L 817.8 610.62 L 812.8 613.22 Z" fill="#000080"/>
<path d="M 849.7 612.4799999999999 L 854.7 609.8799999999999 L 859.7 612.4799999999999 L 854.7 615.0799999999999 Z" fill="#000080"/>
<path d="M 891.6 606.9 L 896.6 604.3 L 901.6 606.9 L 896.6 609.5 Z" fill="#000080"/>
<path d="M 933.5 612.4799999999999 L 938.5 609.8799999999999 L 943.5 612.4799999999999 L 938.5 615.0799999999999 Z" fill="#000080"/>
<path d="M 975.4 603.18 L 980.4 600.5799999999999 L 985.4 603.18 L 980.4 605.78 Z" fill="#000080"/>
<path d="M 1017.3 592.02 L 1022.3 589.42 L 1027.3 592.02 L 1022.3 594.62 Z" fill="#000080"/>
<path d="M 1059.2 608.76 L 1064.2 606.16 L 1069.2 608.76 L 1064.2 611.36 Z" fill="#000080"/>
<path d="M 1101.1 614.3399999999999 L 1106.1 611.7399999999999 L 1111.1 614.3399999999999 L 1106.1 616.9399999999999 Z" fill="#000080"/>
<text transform="translate(714,583.1) scale(2.05,0.80)" text-anchor="end" font-family="Liberation Sans" font-weight="bold" font-size="8" fill="#222" letter-spacing="0.4">30</text>
<text transform="translate(714,600.6) scale(2.05,0.80)" text-anchor="end" font-family="Liberation Sans" font-weight="bold" font-size="8" fill="#222" letter-spacing="0.4">20</text>
<text transform="translate(714,618.9) scale(2.05,0.80)" text-anchor="end" font-family="Liberation Sans" font-weight="bold" font-size="8" fill="#222" letter-spacing="0.4">10</text>
<text transform="translate(714,637.2) scale(2.05,0.80)" text-anchor="end" font-family="Liberation Sans" font-weight="bold" font-size="8" fill="#222" letter-spacing="0.4">0</text>
<text transform="translate(717.5,650) scale(1.68,0.95)" text-anchor="middle" font-family="Liberation Sans" font-weight="bold" font-size="10.3" fill="#222">J</text>
<rect x="724.5" y="646" width="2.8" height="2" fill="#444"/>
<rect x="731.3" y="646" width="2.8" height="2" fill="#444"/>
<rect x="738.1" y="646" width="2.8" height="2" fill="#444"/>
<text transform="translate(759.4,650) scale(1.68,0.95)" text-anchor="middle" font-family="Liberation Sans" font-weight="bold" font-size="10.3" fill="#222">F</text>
<rect x="766.4" y="646" width="2.8" height="2" fill="#444"/>
<rect x="773.1999999999999" y="646" width="2.8" height="2" fill="#444"/>
<rect x="780.0" y="646" width="2.8" height="2" fill="#444"/>
<text transform="translate(801.3,650) scale(1.68,0.95)" text-anchor="middle" font-family="Liberation Sans" font-weight="bold" font-size="10.3" fill="#222">M</text>
<rect x="808.3" y="646" width="2.8" height="2" fill="#444"/>
<rect x="815.0999999999999" y="646" width="2.8" height="2" fill="#444"/>
<rect x="821.9" y="646" width="2.8" height="2" fill="#444"/>
<text transform="translate(843.2,650) scale(1.68,0.95)" text-anchor="middle" font-family="Liberation Sans" font-weight="bold" font-size="10.3" fill="#222">A</text>
<rect x="850.2" y="646" width="2.8" height="2" fill="#444"/>
<rect x="857.0" y="646" width="2.8" height="2" fill="#444"/>
<rect x="863.8000000000001" y="646" width="2.8" height="2" fill="#444"/>
<text transform="translate(885.1,650) scale(1.68,0.95)" text-anchor="middle" font-family="Liberation Sans" font-weight="bold" font-size="10.3" fill="#222">M</text>
<rect x="892.1" y="646" width="2.8" height="2" fill="#444"/>
<rect x="898.9" y="646" width="2.8" height="2" fill="#444"/>
<rect x="905.7" y="646" width="2.8" height="2" fill="#444"/>
<text transform="translate(927.0,650) scale(1.68,0.95)" text-anchor="middle" font-family="Liberation Sans" font-weight="bold" font-size="10.3" fill="#222">J</text>
<rect x="934.0" y="646" width="2.8" height="2" fill="#444"/>
<rect x="940.8" y="646" width="2.8" height="2" fill="#444"/>
<rect x="947.6" y="646" width="2.8" height="2" fill="#444"/>
<text transform="translate(976.4,650) scale(1.45,0.95)" text-anchor="middle" font-family="Liberation Sans" font-weight="bold" font-size="10.3" fill="#222">JUL</text>
<text transform="translate(1010.8,650) scale(1.68,0.95)" text-anchor="middle" font-family="Liberation Sans" font-weight="bold" font-size="10.3" fill="#222">A</text>
<rect x="1017.8" y="646" width="2.8" height="2" fill="#444"/>
<rect x="1024.6" y="646" width="2.8" height="2" fill="#444"/>
<rect x="1031.3999999999999" y="646" width="2.8" height="2" fill="#444"/>
<text transform="translate(1052.7,650) scale(1.68,0.95)" text-anchor="middle" font-family="Liberation Sans" font-weight="bold" font-size="10.3" fill="#222">S</text>
<rect x="1059.7" y="646" width="2.8" height="2" fill="#444"/>
<rect x="1066.5" y="646" width="2.8" height="2" fill="#444"/>
<rect x="1073.3" y="646" width="2.8" height="2" fill="#444"/>
<text transform="translate(1094.6,650) scale(1.68,0.95)" text-anchor="middle" font-family="Liberation Sans" font-weight="bold" font-size="10.3" fill="#222">O</text>
<rect x="1101.6" y="646" width="2.8" height="2" fill="#444"/>
<rect x="1108.3999999999999" y="646" width="2.8" height="2" fill="#444"/>
<rect x="1115.1999999999998" y="646" width="2.8" height="2" fill="#444"/>
<path d="M 691 567.5 L 700 567.5" stroke="#444" stroke-width="1"/>
<rect x="444.8" y="401.8" width="128.6" height="53.8" fill="#fff" stroke="#111" stroke-width="0.9"/>
<rect x="450.2" y="404.6" width="7.100000000000023" height="51.0" fill="#0b0b74" stroke="#000" stroke-width="0.4"/>
<rect x="457.3" y="444.3" width="5.699999999999989" height="11.300000000000011" fill="#9999ff" stroke="#000" stroke-width="0.4"/>
<rect x="471.5" y="446.2" width="6.300000000000011" height="9.400000000000034" fill="#0b0b74" stroke="#000" stroke-width="0.4"/>
<rect x="493.2" y="447.8" width="5.800000000000011" height="7.800000000000011" fill="#0b0b74" stroke="#000" stroke-width="0.4"/>
<rect x="514" y="446.6" width="6.2999999999999545" height="9.0" fill="#0b0b74" stroke="#000" stroke-width="0.4"/>
<rect x="535.2" y="434.8" width="7.5" height="20.80000000000001" fill="#0b0b74" stroke="#000" stroke-width="0.4"/>
<rect x="556.9" y="453.7" width="4.7000000000000455" height="1.900000000000034" fill="#0b0b74" stroke="#000" stroke-width="0.4"/>
<ellipse cx="455.9" cy="408.9" rx="2.8" ry="1.8" fill="#fff" stroke="#000" stroke-width="1"/>
<ellipse cx="479" cy="450.9" rx="2.8" ry="1.8" fill="#fff" stroke="#000" stroke-width="1"/>
<ellipse cx="500.2" cy="451.8" rx="2.8" ry="1.8" fill="#fff" stroke="#000" stroke-width="1"/>
<ellipse cx="521.5" cy="451.4" rx="2.8" ry="1.8" fill="#fff" stroke="#000" stroke-width="1"/>
<ellipse cx="542.3" cy="450.2" rx="2.8" ry="1.8" fill="#fff" stroke="#000" stroke-width="1"/>
<ellipse cx="564" cy="450.9" rx="2.8" ry="1.8" fill="#fff" stroke="#000" stroke-width="1"/>
<rect x="468.4" y="404.3" width="2.6" height="2.6" fill="#0b0b74" stroke="#000" stroke-width="0.5"/>
<rect x="472" y="404.5" width="94" height="2.2" fill="#333"/>
<rect x="468.4" y="408.09999999999997" width="2.6" height="2.6" fill="#9999ff" stroke="#000" stroke-width="0.5"/>
<rect x="472" y="408.29999999999995" width="83" height="2.2" fill="#333"/>
<rect x="468.4" y="411.7" width="2.6" height="2.6" fill="#fff" stroke="#000" stroke-width="0.5"/>
<rect x="472" y="411.9" width="62" height="2.2" fill="#333"/>
<rect x="434" y="454.8" width="6" height="1.6" fill="#444"/>
<rect x="442" y="455.1" width="2.8" height="1" fill="#333"/>
<rect x="434" y="448.0" width="6" height="1.6" fill="#444"/>
<rect x="442" y="448.3" width="2.8" height="1" fill="#333"/>
<rect x="434" y="441.2" width="6" height="1.6" fill="#444"/>
<rect x="442" y="441.5" width="2.8" height="1" fill="#333"/>
<rect x="434" y="434.40000000000003" width="6" height="1.6" fill="#444"/>
<rect x="442" y="434.70000000000005" width="2.8" height="1" fill="#333"/>
<rect x="434" y="427.6" width="6" height="1.6" fill="#444"/>
<rect x="442" y="427.90000000000003" width="2.8" height="1" fill="#333"/>
<rect x="434" y="420.8" width="6" height="1.6" fill="#444"/>
<rect x="442" y="421.1" width="2.8" height="1" fill="#333"/>
<rect x="434" y="414.0" width="6" height="1.6" fill="#444"/>
<rect x="442" y="414.3" width="2.8" height="1" fill="#333"/>
<rect x="434" y="407.2" width="6" height="1.6" fill="#444"/>
<rect x="442" y="407.5" width="2.8" height="1" fill="#333"/>
<rect x="578.5" y="454.8" width="7" height="1.6" fill="#555"/>
<rect x="578.5" y="444.3" width="7" height="1.6" fill="#555"/>
<rect x="578.5" y="433.8" width="7" height="1.6" fill="#555"/>
<rect x="578.5" y="423.3" width="7" height="1.6" fill="#555"/>
<rect x="578.5" y="412.8" width="7" height="1.6" fill="#555"/>
<rect x="578.5" y="402.3" width="7" height="1.6" fill="#555"/>
<rect x="578" y="397" width="9" height="2" fill="#777"/>
<rect x="434.0" y="461" width="8" height="2.4" fill="#333" transform="rotate(-45 438 462)"/>
<rect x="442.0" y="461" width="18" height="2.4" fill="#333" transform="rotate(-45 451 462)"/>
<rect x="466.0" y="461" width="14" height="2.4" fill="#333" transform="rotate(-45 473 462)"/>
<rect x="493.0" y="461" width="8" height="2.4" fill="#333" transform="rotate(-45 497 462)"/>
<rect x="513.5" y="461" width="7" height="2.4" fill="#333" transform="rotate(-45 517 462)"/>
<rect x="532.0" y="461" width="10" height="2.4" fill="#333" transform="rotate(-45 537 462)"/>
<rect x="459" y="467" width="14" height="2.2" fill="#333" transform="rotate(-40 466 468)"/>
<rect x="580" y="460.5" width="28" height="2.2" fill="#444"/></svg>
<div class="t" style="left:65.58px;top:12.53px;font-size:19.11px;line-height:19.11px;font-family:'Liberation Sans',sans-serif;font-weight:bold;color:#2b2277;transform:scaleY(0.8704);transform-origin:0 0;-webkit-text-stroke:0.35px #2b2277;">求</div><div class="t" style="left:90.50px;top:11.37px;font-size:19.69px;line-height:19.69px;font-family:'Liberation Sans',sans-serif;font-weight:bold;color:#2b2277;transform:scaleY(0.9624);transform-origin:0 0;-webkit-text-stroke:0.35px #2b2277;">正</div><div class="t" style="left:115.28px;top:12.03px;font-size:20.74px;line-height:20.74px;font-family:'Liberation Sans',sans-serif;font-weight:bold;color:#2b2277;transform:scaleY(0.8021);transform-origin:0 0;-webkit-text-stroke:0.35px #2b2277;">改</div><div class="t" style="left:140.40px;top:13.17px;font-size:20.31px;line-height:20.31px;font-family:'Liberation Sans',sans-serif;font-weight:bold;color:#2b2277;transform:scaleY(0.7717);transform-origin:0 0;-webkit-text-stroke:0.35px #2b2277;">善</div><div class="t" style="left:66.60px;top:29.66px;font-size:7.53px;line-height:7.53px;font-family:'Liberation Sans',sans-serif;font-weight:bold;color:#2b2277;letter-spacing:0.28em;">Qiu Zheng kaizen</div><div class="t" style="left:68.37px;top:71.92px;font-size:28.70px;line-height:28.70px;font-family:'Liberation Sans',sans-serif;font-weight:normal;color:#000;transform:scaleY(0.9011);transform-origin:0 0;-webkit-text-stroke:0.5px #000;">2</div><div class="t" style="left:80.94px;top:61.17px;font-size:38.26px;line-height:38.26px;font-family:'Liberation Sans',sans-serif;font-weight:bold;color:#000;transform:scaleY(0.8930);transform-origin:0 0;">、</div><div class="t" style="left:109.79px;top:73.08px;font-size:26.86px;line-height:26.86px;font-family:'Liberation Sans',sans-serif;font-weight:bold;color:#000;transform:scaleY(0.8979);transform-origin:0 0;">问题解决流程示意图</div><div class="t" style="left:111.38px;top:118.85px;font-size:26.52px;line-height:26.52px;font-family:'Liberation Sans',sans-serif;font-weight:normal;color:#000;transform:scaleY(0.9073);transform-origin:0 0;-webkit-text-stroke:0.6px #000;">1.</div><div class="t" style="left:136.01px;top:120.12px;font-size:24.17px;line-height:24.17px;font-family:'Liberation Sans',sans-serif;font-weight:normal;color:#000;transform:scaleY(0.9067);transform-origin:0 0;-webkit-text-stroke:0.65px #000;">明确问题</div><div class="t" style="left:236.38px;top:118.61px;font-size:20.46px;line-height:20.46px;font-family:'Liberation Sans',sans-serif;font-weight:bold;color:#000;letter-spacing:0.08em;transform:scaleY(1.0969);transform-origin:0 0;">(step1)</div><div class="t" style="left:106.86px;top:356.24px;font-size:24.78px;line-height:24.78px;font-family:'Liberation Sans',sans-serif;font-weight:normal;color:#000;transform:scaleY(1.0376);transform-origin:0 0;-webkit-text-stroke:0.6px #000;">2.</div><div class="t" style="left:132.22px;top:357.46px;font-size:24.07px;line-height:24.07px;font-family:'Liberation Sans',sans-serif;font-weight:normal;color:#000;transform:scaleY(0.9725);transform-origin:0 0;-webkit-text-stroke:0.65px #000;">分解问题</div><div class="t" style="left:242.76px;top:355.83px;font-size:20.85px;line-height:20.85px;font-family:'Liberation Sans',sans-serif;font-weight:bold;color:#000;letter-spacing:0.08em;transform:scaleY(1.1482);transform-origin:0 0;">(step2)</div><div class="t" style="left:103.47px;top:604.30px;font-size:25.71px;line-height:25.71px;font-family:'Liberation Sans',sans-serif;font-weight:normal;color:#000;transform:scaleY(0.9859);transform-origin:0 0;-webkit-text-stroke:0.6px #000;">3.</div><div class="t" style="left:128.36px;top:606.40px;font-size:24.15px;line-height:24.15px;font-family:'Liberation Sans',sans-serif;font-weight:normal;color:#000;transform:scaleY(0.9201);transform-origin:0 0;-webkit-text-stroke:0.65px #000;">设定目标</div><div class="t" style="left:240.98px;top:603.83px;font-size:20.36px;line-height:20.36px;font-family:'Liberation Sans',sans-serif;font-weight:bold;color:#000;letter-spacing:0.08em;transform:scaleY(1.1759);transform-origin:0 0;">(step3)</div><div class="t" style="left:660.80px;top:116.85px;font-size:25.00px;line-height:25.00px;font-family:'Liberation Sans',sans-serif;font-weight:normal;color:#000;transform:scaleY(1.0000);transform-origin:0 0;-webkit-text-stroke:0.6px #000;">4.</div><div class="t" style="left:685.76px;top:118.24px;font-size:24.25px;line-height:24.25px;font-family:'Liberation Sans',sans-serif;font-weight:normal;color:#000;transform:scaleY(0.9046);transform-origin:0 0;-webkit-text-stroke:0.65px #000;">把握真因</div><div class="t" style="left:797.78px;top:116.39px;font-size:20.36px;line-height:20.36px;font-family:'Liberation Sans',sans-serif;font-weight:bold;color:#000;letter-spacing:0.08em;transform:scaleY(1.1498);transform-origin:0 0;">(step4)</div><div class="t" style="left:662.27px;top:401.42px;font-size:25.71px;line-height:25.71px;font-family:'Liberation Sans',sans-serif;font-weight:normal;color:#000;transform:scaleY(1.0167);transform-origin:0 0;-webkit-text-stroke:0.6px #000;">5.</div><div class="t" style="left:687.96px;top:403.90px;font-size:24.03px;line-height:24.03px;font-family:'Liberation Sans',sans-serif;font-weight:normal;color:#000;transform:scaleY(0.9374);transform-origin:0 0;-webkit-text-stroke:0.65px #000;">制定及实施对策</div><div class="t" style="left:872.15px;top:401.29px;font-size:20.97px;line-height:20.97px;font-family:'Liberation Sans',sans-serif;font-weight:bold;color:#000;letter-spacing:0.08em;transform:scaleY(1.1564);transform-origin:0 0;">(step5-step6)</div><div class="t" style="left:671.08px;top:536.80px;font-size:24.43px;line-height:24.43px;font-family:'Liberation Sans',sans-serif;font-weight:normal;color:#000;transform:scaleY(1.0089);transform-origin:0 0;-webkit-text-stroke:0.6px #000;">7-8.</div><div class="t" style="left:720.76px;top:538.12px;font-size:23.98px;line-height:23.98px;font-family:'Liberation Sans',sans-serif;font-weight:normal;color:#000;transform:scaleY(0.9439);transform-origin:0 0;-webkit-text-stroke:0.65px #000;">评价结果及巩固</div><div class="t" style="left:904.56px;top:536.29px;font-size:20.75px;line-height:20.75px;font-family:'Liberation Sans',sans-serif;font-weight:bold;color:#000;letter-spacing:0.08em;transform:scaleY(1.1280);transform-origin:0 0;">(step7-step8)</div><div class="t" style="left:145.20px;top:160.66px;font-size:23.48px;line-height:23.48px;font-family:'Liberation Sans',sans-serif;font-weight:normal;color:#000;">理想状态</div><div class="t" style="left:294.20px;top:195.43px;font-size:24.25px;line-height:24.25px;font-family:'Liberation Sans',sans-serif;font-weight:normal;color:#000;">问题</div><div class="t" style="left:148.20px;top:267.94px;font-size:23.01px;line-height:23.01px;font-family:'Liberation Sans',sans-serif;font-weight:normal;color:#000;">现状</div><div class="t" style="left:139.74px;top:393.00px;font-size:23.23px;line-height:23.23px;font-family:'Liberation Sans',sans-serif;font-weight:normal;color:#000;">分解</div><div class="t" style="left:360.53px;top:394.08px;font-size:23.28px;line-height:23.28px;font-family:'Liberation Sans',sans-serif;font-weight:normal;color:#000;">分解</div><div class="t" style="left:142.05px;top:456.72px;font-size:22.62px;line-height:22.62px;font-family:'Liberation Sans',sans-serif;font-weight:normal;color:#000;">分解</div><div class="t" style="left:363.73px;top:488.05px;font-size:51.10px;line-height:51.10px;font-family:'Liberation Sans',sans-serif;font-weight:normal;color:#000;transform:scaleY(0.9459);transform-origin:0 0;">⇒</div><div class="t" style="left:138.52px;top:528.16px;font-size:24.17px;line-height:24.17px;font-family:'Liberation Sans',sans-serif;font-weight:normal;color:#000;">要优先着手解决的问题</div><div class="t" style="left:470.72px;top:525.48px;font-size:24.03px;line-height:24.03px;font-family:'Liberation Sans',sans-serif;font-weight:normal;color:#000;">问题点</div><div class="t" style="left:698.32px;top:224.86px;font-size:24.06px;line-height:24.06px;font-family:'Liberation Sans',sans-serif;font-weight:normal;color:#000;">问题点</div><div class="t" style="left:1077.72px;top:209.66px;font-size:24.12px;line-height:24.12px;font-family:'Liberation Sans',sans-serif;font-weight:normal;color:#000;">真因</div><div class="t" style="left:1082.83px;top:291.12px;font-size:23.42px;line-height:23.42px;font-family:'Liberation Sans',sans-serif;font-weight:normal;color:#000;">真因</div><div class="t" style="left:469.69px;top:690.59px;font-size:18.65px;line-height:18.65px;font-family:'Liberation Sans',sans-serif;font-weight:bold;color:#fff;">让中国咨询回归理性</div><div class="t" style="left:648.70px;top:690.49px;font-size:18.65px;line-height:18.65px;font-family:'Liberation Sans',sans-serif;font-weight:bold;color:#fff;">与民族企业共创共存</div><div class="t" style="left:62.6px;top:41.4px;font-size:6.9px;line-height:7.5px;font-weight:bold;color:#2a6642;font-family:'Liberation Sans',sans-serif;transform:scaleY(0.85);transform-origin:0 0"><span style="display:inline-block;width:7.72px;text-align:center">精</span><span style="display:inline-block;width:7.72px;text-align:center">益</span><span style="display:inline-block;width:7.72px;text-align:center">运</span><span style="display:inline-block;width:7.72px;text-align:center">营</span><span style="display:inline-block;width:7.72px;text-align:center">整</span><span style="display:inline-block;width:7.72px;text-align:center">体</span><span style="display:inline-block;width:7.72px;text-align:center">解</span><span style="display:inline-block;width:7.72px;text-align:center">决</span><span style="display:inline-block;width:7.72px;text-align:center">方</span><span style="display:inline-block;width:7.72px;text-align:center">案</span><span style="display:inline-block;width:7.72px;text-align:center">服</span><span style="display:inline-block;width:7.72px;text-align:center">务</span><span style="display:inline-block;width:7.72px;text-align:center">商</span></div>
</div></body></html>
